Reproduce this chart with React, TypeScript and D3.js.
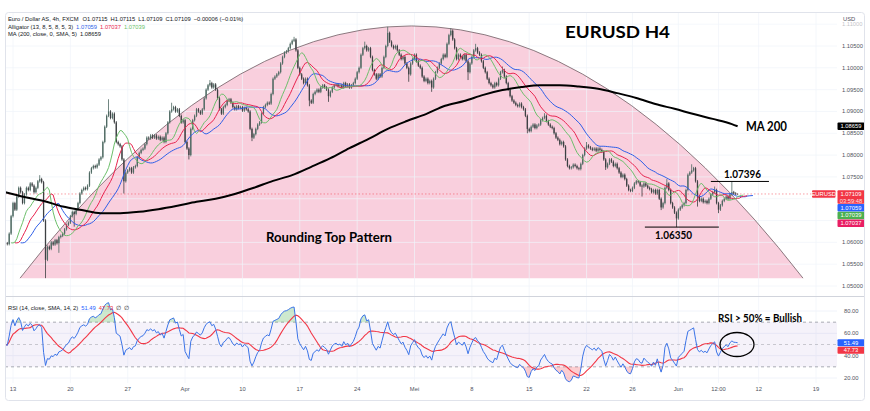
import React from "react";
import * as d3 from "d3";

// ---------- DATA (pips above 1.0000 for candles, 4h bars) ----------
const closes: number[] = [
  598, 596, 620, 660, 690, 675, 705, 725, 715, 690,
  710, 725, 720, 735, 730, 715, 725, 740, 745, 738,
  650, 560, 590, 585, 600, 595, 605, 598, 612, 615,
  620, 630, 640, 645, 660, 670, 665, 675, 690, 712,
  720, 725, 722, 730, 760, 770, 775, 772, 778, 790,
  795, 830, 865, 890, 900, 885, 895, 875, 830, 825,
  820, 790, 740, 760, 765, 770, 760, 772, 775, 795,
  805, 812, 815, 825, 840, 838, 845, 840, 845, 838,
  842, 835, 840, 830, 850, 875, 900, 905, 910, 900,
  905, 890, 875, 880, 830, 815, 800, 860, 880, 890,
  905, 900, 895, 905, 930, 950, 960, 965, 955, 962,
  950, 930, 905, 895, 910, 915, 925, 928, 920, 910,
  905, 912, 908, 910, 902, 908, 905, 900, 860, 840,
  848, 860, 870, 875, 895, 910, 915, 920, 918, 940,
  975, 980, 985, 990, 1010, 1025, 1035, 1038, 1045, 1055,
  1062, 1065, 1040, 1000, 985, 975, 965, 975, 960, 925,
  920, 940, 945, 950, 945, 955, 960, 955, 950, 935,
  945, 955, 960, 962, 958, 960, 955, 965, 958, 962,
  955, 960, 965, 975, 990, 1000, 1030, 1045, 1050, 1040,
  1045, 1025, 995, 985, 975, 985, 980, 1000, 1025, 1050,
  1080, 1060, 1050, 1045, 1050, 1040, 1030, 1020, 1025, 1010,
  1000, 985, 1010, 1020, 1030, 1015, 1005, 1000, 980, 970,
  975, 965, 970, 955, 975, 990, 1000, 1010, 1020, 1030,
  1025, 1055, 1075, 1085, 1065, 1045, 1020, 1030, 1025, 1020,
  1030, 1015, 990, 1010, 1025, 1040, 1045, 1035, 1030, 1015,
  1000, 990, 975, 965, 960, 955, 965, 960, 975, 990,
  995, 980, 965, 950, 935, 925, 920, 915, 912, 918,
  910, 905, 890, 860, 855, 865, 870, 862, 868, 870,
  880, 885, 890, 878, 870, 865, 862, 850, 840, 835,
  825, 830, 820, 790, 775, 770, 772, 778, 775, 770,
  768, 780, 800, 815, 822, 818, 815, 812, 815, 810,
  815, 812, 808, 790, 772, 780, 790, 785, 775, 780,
  770, 760, 750, 755, 745, 730, 720, 718, 725, 735,
  740, 738, 730, 728, 735, 730, 725, 722, 715, 720,
  712, 720, 700, 680, 690, 725, 735, 720, 690, 680,
  668, 655, 675, 680, 685, 690, 720, 755, 760, 765,
  770, 740, 705, 695, 700, 692, 695, 690, 700, 710,
  715, 720, 690, 675, 685, 695, 700, 705, 700, 710,
  715, 712, 711.5, 710.9,
];
const firstOpen = 600;
const highSpikes: [number, number][] = [
  [18, 754], [54, 928], [87, 920], [107, 972], [151, 1071], [188, 1060],
  [200, 1094], [233, 1091], [246, 1055], [260, 1003], [282, 896], [304, 830],
  [346, 745], [359, 779], [371, 728], [380, 740], [383, 711.5],
];
const lowSpikes: [number, number][] = [
  [21, 518], [28, 576], [36, 636], [62, 712], [96, 790], [129, 832],
  [159, 912], [169, 922], [211, 968], [223, 945], [242, 972], [273, 850],
  [314, 766], [333, 705], [343, 674], [351, 635], [362, 682], [373, 667], [383, 710.9],
];
const maBars = [0, 10, 20, 30, 40, 50, 60, 70, 80, 90, 100, 110, 120, 130, 140, 150, 160, 170, 180, 190,
  200, 210, 220, 230, 240, 250, 260, 270, 280, 290, 300, 310, 320, 330, 340, 350, 360, 370, 380, 383];
const maValues = [715, 704, 695, 682, 674, 667, 667, 670, 676, 684, 693, 700, 711, 725, 741, 754, 773, 793, 816, 837,
  860, 878, 894, 913, 924, 938, 949, 956, 960, 960, 957, 952, 942, 931, 917, 906, 894, 883, 871, 866];

const priceTicks = [1.05, 1.055, 1.06, 1.065, 1.07, 1.075, 1.08, 1.085, 1.09, 1.095, 1.1, 1.105, 1.11];
const rsiTicks = [20, 40, 60, 80];
const dateLabels = ["13", "20", "27", "Apr", "10", "17", "24", "Mei", "8", "15", "22", "26", "Jun", "12:00", "12", "19"];
const dateDays = [0, 5, 10, 15, 20, 25, 30, 35, 40, 45, 50, 54, 58, 61.5, 65, 70];
const BARS_BEFORE = 4;
const BARS_PER_DAY = 6;

const lastPrice = 1.07109;
const maLast = 1.08659;
const jawLast = 1.07059, teethLast = 1.07037, lipsLast = 1.07039;
const rsiLast = 51.49, rsiMaLast = 47.73;
const resistance = 1.07396;
const support = 1.0635;
// hand-drawn annotations in data space: [bar, price]
const arcStart: [number, number] = [7.7, 1.0518];
const arcPeak: [number, number] = [212.4, 1.1096];
const arcEnd: [number, number] = [417.2, 1.0518];
const resLine: [number, number] = [369, 399.4];
const supLine: [number, number] = [334.5, 373.2];

const WICK = 3;
const RSI_SEED = 5; // prior average gain/loss (pips) before the first visible bar
const COL = {
  up: "#4f6a63", down: "#3d4043", jaw: "#2f5fe8", teeth: "#e8244f", lips: "#6cbf6b",
  red: "#f23645", blue: "#2962ff", green: "#4caf50", pink: "#e91e63", axis: "#50535e",
  grid: "#f0f3fa", text: "#131722",
};

function smma(src: number[], n: number) {
  let s = src[0];
  return src.map((v, i) => (s = i === 0 ? v : (s * (n - 1) + v) / n));
}

export default function App() {
  const xDay = d3.scaleLinear().domain([0, 70]).range([13, 816]);
  const xBar = (k: number) => xDay((k - BARS_BEFORE) / BARS_PER_DAY);
  const y = d3.scaleLinear().domain([1.05, 1.105]).range([286, 46]);
  const yR = d3.scaleLinear().domain([20, 80]).range([378, 311]);
  const px = (p: number) => 1 + p / 10000;

  const hi = new Map(highSpikes);
  const lo = new Map(lowSpikes);
  const candles = closes.map((c, k) => {
    const o = k === 0 ? firstOpen : closes[k - 1];
    const h = hi.get(k) ?? Math.max(o, c) + WICK;
    const l = lo.get(k) ?? Math.min(o, c) - WICK;
    return { k, o, h, l, c };
  });
  const median = candles.map((d) => (d.h + d.l) / 2);
  const ali = [
    { v: smma(median, 13), s: 8, c: COL.jaw },
    { v: smma(median, 8), s: 5, c: COL.teeth },
    { v: smma(median, 5), s: 3, c: COL.lips },
  ];
  const priceLine = d3.line<[number, number]>().x((d) => d[0]).y((d) => d[1]);

  // RSI 14 (Wilder) + SMA 14
  const rsi: number[] = [50];
  let ag = RSI_SEED, al = RSI_SEED;
  for (let k = 1; k < closes.length; k++) {
    const ch = closes[k] - closes[k - 1];
    const g = Math.max(ch, 0), l = Math.max(-ch, 0);
    ag = (ag * 13 + g) / 14;
    al = (al * 13 + l) / 14;
    rsi.push(al === 0 ? 100 : 100 - 100 / (1 + ag / al));
  }
  const rsiMa = rsi.map((_, i) => d3.mean(rsi.slice(Math.max(0, i - 13), i + 1)) as number);
  const rsiLine = d3.line<number>().x((_, i) => xBar(i)).y((d) => yR(d));
  const obArea = d3.area<number>().x((_, i) => xBar(i)).y0(yR(70)).y1((d) => yR(Math.max(d, 70)));
  const osArea = d3.area<number>().x((_, i) => xBar(i)).y0(yR(30)).y1((d) => yR(Math.min(d, 30)));

  const maLine = d3.line<number>().x((_, i) => xBar(maBars[i])).y((d) => y(px(d))).curve(d3.curveMonotoneX);

  // arc as quadratic bezier
  const ax0 = xBar(arcStart[0]), ay0 = y(arcStart[1]);
  const ax1 = xBar(arcEnd[0]), ay1 = y(arcEnd[1]);
  const pxk = xBar(arcPeak[0]), pyk = y(arcPeak[1]);
  const cy = 2 * pyk - ay0;
  const arcD = `M${ax0},${ay0} Q${pxk},${cy} ${ax1},${ay1}`;

  const L = 5, R = 837, T = 12, PB = 296, RT = 297, RB = 383;
  const font = "'Liberation Sans', Arial, sans-serif";
  const bold = "Lato, 'Open Sans', sans-serif";
  const fs = 5.8;

  const box = (yc: number, h: number, fill: string, label: string, key: string) => (
    <g key={key}>
      <rect x={837.5} y={yc - h / 2} width={27} height={h} fill={fill} rx={1} />
      <text x={851} y={yc + 2} fontSize={fs} fill="#fff" textAnchor="middle" fontFamily={font}>{label}</text>
    </g>
  );

  const yLast = y(lastPrice);
  // price tags occupy [yLast-3.7, yLast+33.1]; axis labels underneath are hidden
  const tagTop = yLast - 3.7, tagBottom = yLast + 33.1;
  const visibleTicks = priceTicks.filter((p) => y(p) < tagTop - 1 || y(p) > tagBottom + 1);

  return (
    <svg width={870} height={411} style={{ position: "absolute", left: 0, top: 0, background: "#fff" }}>
      <defs>
        <clipPath id="pp"><rect x={L} y={T} width={R - L} height={PB - T} /></clipPath>
        <clipPath id="rp"><rect x={L} y={RT} width={R - L} height={RB - RT} /></clipPath>
      </defs>
      <rect x={0} y={0} width={870} height={411} fill="#fff" />
      {/* pink rounding top */}
      <g clipPath="url(#pp)">
        <path d={arcD + " Z"} fill="#f9cfdd" />
      </g>
      {/* grid */}
      {dateDays.map((d, i) => (
        <line key={"vg" + i} x1={xDay(d)} x2={xDay(d)} y1={T} y2={RB} stroke={COL.grid} strokeOpacity={0.7} />
      ))}
      {priceTicks.map((p, i) => (
        <line key={"hg" + i} x1={L} x2={R} y1={y(p)} y2={y(p)} stroke={COL.grid} strokeOpacity={0.7} />
      ))}
      {rsiTicks.map((r, i) => (
        <line key={"rg" + i} x1={L} x2={R} y1={yR(r)} y2={yR(r)} stroke={COL.grid} />
      ))}
      <g clipPath="url(#pp)">
        <path d={arcD} fill="none" stroke="#6f5d63" strokeWidth={0.8} />
        <line x1={L} x2={R} y1={yLast} y2={yLast} stroke={COL.red} strokeDasharray="1.5,2" strokeOpacity={0.6} strokeWidth={0.8} />
        {candles.map((d) => {
          const up = d.c >= d.o;
          const col = up ? COL.up : COL.down;
          const yt = y(px(Math.max(d.o, d.c)));
          const yb = y(px(Math.min(d.o, d.c)));
          return (
            <g key={d.k}>
              <rect x={xBar(d.k) - 0.4} width={0.8} y={y(px(d.h))} height={Math.max(0.6, y(px(d.l)) - y(px(d.h)))} fill={col} />
              <rect x={xBar(d.k) - 0.65} width={1.3} y={yt} height={Math.max(0.8, yb - yt)} fill={col} />
            </g>
          );
        })}
        {ali.map((a, i) => (
          <path key={"al" + i} fill="none" stroke={a.c} strokeWidth={1}
            d={priceLine(a.v.map((v, k) => [xBar(k + a.s), y(px(v))] as [number, number])) || ""} />
        ))}
        <path d={maLine(maValues) || ""} fill="none" stroke="#000" strokeWidth={2} />
      </g>
      {/* annotations */}
      <line x1={xBar(resLine[0])} x2={xBar(resLine[1])} y1={y(resistance)} y2={y(resistance)} stroke="#000" strokeWidth={1} />
      <line x1={xBar(supLine[0])} x2={xBar(supLine[1])} y1={y(support)} y2={y(support)} stroke="#000" strokeWidth={1} />
      <text x={724} y={178.3} fontSize={11} fontWeight={700} fontFamily={bold} textLength={37} lengthAdjust="spacingAndGlyphs">1.07396</text>
      <text x={655} y={239.3} fontSize={11} fontWeight={700} fontFamily={bold} textLength={37} lengthAdjust="spacingAndGlyphs">1.06350</text>
      <text x={746} y={131} fontSize={12.5} fontWeight={700} fontFamily={bold} textLength={41} lengthAdjust="spacingAndGlyphs">MA 200</text>
      <text x={266} y={242} fontSize={13} fontWeight={700} fontFamily={bold} textLength={126} lengthAdjust="spacingAndGlyphs">Rounding Top Pattern</text>
      <text x={565} y={37.5} fontSize={17} fontWeight={700} fontFamily={bold} textLength={105} lengthAdjust="spacingAndGlyphs">EURUSD H4</text>

      {/* pane separator */}
      <line x1={L} x2={865} y1={296.5} y2={296.5} stroke="#d1d4dc" strokeWidth={1} />

      {/* RSI pane */}
      <rect x={L} y={yR(70)} width={R - L} height={yR(30) - yR(70)} fill="rgba(126,87,194,0.08)" />
      {[70, 50, 30].map((r) => (
        <line key={"rl" + r} x1={L} x2={R} y1={yR(r)} y2={yR(r)} stroke="#9598a1" strokeDasharray="3,3" strokeWidth={0.8} strokeOpacity={r === 50 ? 0.6 : 1} />
      ))}
      <g clipPath="url(#rp)">
        <path d={obArea(rsi) || ""} fill="rgba(76,175,80,0.28)" />
        <path d={osArea(rsi) || ""} fill="rgba(242,54,69,0.25)" />
        <path d={rsiLine(rsiMa) || ""} fill="none" stroke={COL.red} strokeWidth={1.1} />
        <path d={rsiLine(rsi) || ""} fill="none" stroke="#3b74e8" strokeWidth={1} />
      </g>
      <text x={718} y={321.7} fontSize={10.5} fontWeight={700} fontFamily={bold} textLength={84} lengthAdjust="spacingAndGlyphs">RSI &gt; 50% = Bullish</text>
      <ellipse cx={737} cy={yR(50)} rx={17} ry={12} fill="none" stroke="#000" strokeWidth={1.3} />

      {/* legends */}
      <text x={8} y={21} fontSize={fs} fill={COL.text} fontFamily={font}>
        <tspan>Euro / Dollar AS, 4h, FXCM</tspan>
        <tspan dx={4}>O1.07115</tspan>
        <tspan dx={3}>H1.07115</tspan>
        <tspan dx={3}>L1.07109</tspan>
        <tspan dx={3}>C1.07109</tspan>
        <tspan dx={3}>−0.00006 (−0.01%)</tspan>
      </text>
      <text x={8} y={28.5} fontSize={fs} fill={COL.text} fontFamily={font}>
        <tspan>Alligator (13, 8, 5, 8, 5, 3)</tspan>
        <tspan dx={3} fill={COL.jaw}>{jawLast.toFixed(5)}</tspan>
        <tspan dx={3} fill={COL.teeth}>{teethLast.toFixed(5)}</tspan>
        <tspan dx={3} fill={COL.lips}>{lipsLast.toFixed(5)}</tspan>
      </text>
      <text x={8} y={36} fontSize={fs} fill={COL.text} fontFamily={font}>
        <tspan>MA (200, close, 0, SMA, 5)</tspan>
        <tspan dx={3}>{maLast.toFixed(5)}</tspan>
      </text>
      <text x={8} y={310} fontSize={fs} fill={COL.text} fontFamily={font}>
        <tspan>RSI (14, close, SMA, 14, 2)</tspan>
        <tspan dx={3} fill={COL.blue}>{rsiLast.toFixed(2)}</tspan>
        <tspan dx={3} fill={COL.red}>{rsiMaLast.toFixed(2)}</tspan>
        <tspan dx={3}>∅</tspan>
        <tspan dx={3}>∅</tspan>
      </text>

      {/* price axis */}
      <text x={843} y={21} fontSize={fs} fill={COL.axis} fontFamily={font}>USD</text>
      {visibleTicks.map((p, i) => (
        <text key={"pt" + i} x={842} y={y(p) + 2} fontSize={fs} fill={COL.axis} fontFamily={font} opacity={p > 1.107 ? 0.35 : 1}>
          {p.toFixed(5)}
        </text>
      ))}
      {rsiTicks.map((r, i) => (
        <text key={"rt" + i} x={844} y={yR(r) + 2} fontSize={fs} fill={COL.axis} fontFamily={font}>{r.toFixed(2)}</text>
      ))}
      {/* value tags */}
      {box(y(maLast), 7.5, "#000", maLast.toFixed(5), "ma")}
      <rect x={812} y={yLast - 3.7} width={23.5} height={7.4} fill={COL.red} rx={1} />
      <text x={823.7} y={yLast + 2} fontSize={fs} fill="#fff" textAnchor="middle" fontFamily={font}>EURUSD</text>
      <rect x={837.5} y={yLast - 3.7} width={27} height={13.6} fill={COL.red} rx={1} />
      <text x={851} y={yLast + 2} fontSize={fs} fill="#fff" textAnchor="middle" fontFamily={font}>{lastPrice.toFixed(5)}</text>
      <text x={851} y={yLast + 8.6} fontSize={fs} fill="#ffe0e3" textAnchor="middle" fontFamily={font}>03:59:48</text>
      {box(yLast + 13.7, 7.5, COL.blue, jawLast.toFixed(5), "jaw")}
      {box(yLast + 21.5, 7.5, COL.green, lipsLast.toFixed(5), "lips")}
      {box(yLast + 29.3, 7.5, COL.pink, teethLast.toFixed(5), "teeth")}
      {box(yR(rsiLast), 7, COL.blue, rsiLast.toFixed(2), "rsi")}
      {box(yR(rsiLast) + 7.5, 7, COL.red, rsiMaLast.toFixed(2), "rsima")}

      {/* date axis */}
      {dateLabels.map((t, i) => (
        <text key={"dl" + i} x={xDay(dateDays[i])} y={390.5} fontSize={fs} fill={COL.axis} textAnchor="middle" fontFamily={font}>{t}</text>
      ))}
      <rect x={5.5} y={12.5} width={859} height={388} rx={3} fill="none" stroke="#e0e3eb" />
    </svg>
  );
}
